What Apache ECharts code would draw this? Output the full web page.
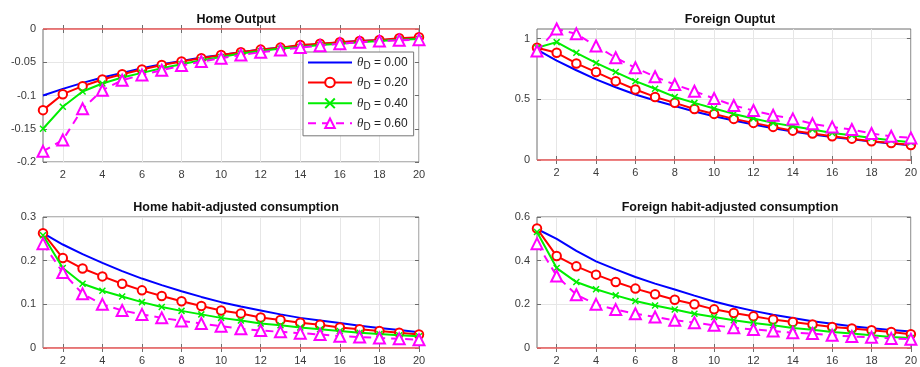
<!DOCTYPE html>
<html><head><meta charset="utf-8">
<script src="https://cdn.jsdelivr.net/npm/echarts@6/dist/echarts.min.js"></script>
<style>html,body{margin:0;padding:0;background:#fff}#c{width:920px;height:367px}</style>
</head><body><div id="c"></div>
<script>
const periods = [1,2,3,4,5,6,7,8,9,10,11,12,13,14,15,16,17,18,19,20];
const xTicks = [2,4,6,8,10,12,14,16,18,20];
const seriesNames = ['θD = 0.00','θD = 0.20','θD = 0.40','θD = 0.60'];
const titles = ['Home Output','Foreign Ouptut','Home habit-adjusted consumption','Foreign habit-adjusted consumption'];

// Home Output
const homeOut0 = [-0.100,-0.090,-0.081,-0.073,-0.066,-0.059,-0.053,-0.048,-0.043,-0.039,-0.035,-0.031,-0.028,-0.025,-0.023,-0.020,-0.018,-0.017,-0.015,-0.013];
const homeOut2 = [-0.122,-0.098,-0.086,-0.076,-0.068,-0.061,-0.054,-0.049,-0.044,-0.039,-0.035,-0.031,-0.028,-0.024,-0.022,-0.020,-0.018,-0.0165,-0.014,-0.0125];
const homeOut4 = [-0.150,-0.117,-0.094,-0.082,-0.073,-0.066,-0.059,-0.053,-0.047,-0.042,-0.037,-0.033,-0.0295,-0.027,-0.024,-0.022,-0.020,-0.018,-0.016,-0.015];
const homeOut6 = [-0.184,-0.167,-0.120,-0.092,-0.077,-0.069,-0.062,-0.055,-0.049,-0.044,-0.039,-0.035,-0.0315,-0.028,-0.025,-0.022,-0.020,-0.018,-0.017,-0.016];
// Foreign Output
const forOut0 = [0.91,0.82,0.74,0.665,0.60,0.54,0.49,0.445,0.40,0.36,0.325,0.292,0.262,0.235,0.21,0.19,0.17,0.152,0.136,0.122];
const forOut2 = [0.925,0.884,0.796,0.725,0.65,0.581,0.52,0.471,0.421,0.38,0.339,0.306,0.273,0.242,0.218,0.196,0.176,0.154,0.14,0.124];
const forOut4 = [0.925,0.972,0.884,0.80,0.725,0.65,0.587,0.52,0.471,0.424,0.38,0.342,0.306,0.278,0.251,0.223,0.204,0.182,0.163,0.146];
const forOut6 = [0.898,1.08,1.04,0.94,0.843,0.76,0.686,0.622,0.567,0.507,0.449,0.408,0.369,0.339,0.298,0.273,0.251,0.218,0.196,0.182];
// Home habit-adjusted consumption
const homeC0 = [0.263,0.237,0.215,0.195,0.176,0.159,0.144,0.130,0.117,0.105,0.095,0.086,0.077,0.069,0.063,0.057,0.051,0.046,0.041,0.036];
const homeC2 = [0.263,0.206,0.182,0.164,0.147,0.132,0.119,0.107,0.096,0.086,0.079,0.070,0.064,0.058,0.053,0.047,0.043,0.039,0.035,0.031];
const homeC4 = [0.258,0.183,0.147,0.131,0.118,0.105,0.094,0.085,0.077,0.069,0.063,0.056,0.052,0.047,0.043,0.039,0.035,0.032,0.029,0.027];
const homeC6 = [0.239,0.173,0.124,0.100,0.086,0.077,0.069,0.062,0.056,0.050,0.044,0.040,0.037,0.034,0.031,0.027,0.025,0.023,0.021,0.019];
// Foreign habit-adjusted consumption
const forC0 = [0.545,0.50,0.445,0.397,0.36,0.325,0.295,0.268,0.24,0.213,0.19,0.17,0.152,0.137,0.123,0.111,0.10,0.091,0.083,0.076];
const forC2 = [0.547,0.421,0.374,0.336,0.302,0.272,0.246,0.221,0.200,0.177,0.160,0.145,0.130,0.119,0.108,0.096,0.089,0.081,0.073,0.063];
const forC4 = [0.531,0.366,0.302,0.269,0.241,0.215,0.195,0.176,0.157,0.142,0.127,0.115,0.104,0.092,0.084,0.073,0.066,0.058,0.050,0.046];
const forC6 = [0.478,0.33,0.244,0.200,0.176,0.157,0.142,0.127,0.116,0.104,0.093,0.085,0.078,0.070,0.066,0.058,0.053,0.049,0.044,0.040];

const panels = [
  {data:[homeOut0,homeOut2,homeOut4,homeOut6], min:-0.2, max:0, yTicks:[-0.2,-0.15,-0.1,-0.05,0]},
  {data:[forOut0,forOut2,forOut4,forOut6], min:0, max:1.08, yTicks:[0,0.5,1]},
  {data:[homeC0,homeC2,homeC4,homeC6], min:0, max:0.3, yTicks:[0,0.1,0.2,0.3]},
  {data:[forC0,forC2,forC4,forC6], min:0, max:0.6, yTicks:[0,0.2,0.4,0.6]}
];

const gridPos = [
  {left:43, top:29, width:376, height:133},
  {left:537, top:29, width:376, height:131},
  {left:43, top:217, width:376, height:131},
  {left:537, top:217, width:376, height:131}
];
const titleY = [8, 8, 196, 196];

const colors = ['#0000ff','#ff0000','#00ee00','#ff00ff'];
const frame = '#6e6e6e';
const labelStyle = {color:'#3a3a3a', fontSize:11, fontFamily:'Liberation Sans, Arial, sans-serif'};

const grids=[], xAxes=[], yAxes=[], series=[], title=[];
gridPos.forEach((g,i)=>{
  const p = panels[i];
  grids.push(Object.assign({show:true, borderColor:frame, borderWidth:1, backgroundColor:'#fff'}, g));
  title.push({text:titles[i], left:g.left + g.width/2, top:titleY[i], textAlign:'center',
    textStyle:{fontSize:12.5, fontWeight:'bold', color:'#111', fontFamily:'Liberation Sans, Arial, sans-serif'}});
  const xBase = {type:'value', gridIndex:i, min:1, max:20,
    axisLine:{show:false}, axisTick:{show:true, inside:true, length:4, lineStyle:{color:frame}, customValues:xTicks},
    splitLine:{show:true, lineStyle:{color:'#e6e6e6', width:1}}};
  xAxes.push(Object.assign({}, xBase, {position:'bottom', axisLabel:Object.assign({margin:7, customValues:xTicks}, labelStyle)}));
  xAxes.push(Object.assign({}, xBase, {position:'top', axisLabel:{show:false, customValues:xTicks}, splitLine:{show:false}}));
  const yBase = {type:'value', gridIndex:i, min:p.min, max:p.max,
    axisLine:{show:false}, axisTick:{show:true, inside:true, length:4, lineStyle:{color:frame}, customValues:p.yTicks},
    splitLine:{show:true, lineStyle:{color:'#e6e6e6', width:1}}};
  yAxes.push(Object.assign({}, yBase, {position:'left', axisLabel:Object.assign({margin:7, customValues:p.yTicks}, labelStyle)}));
  yAxes.push(Object.assign({}, yBase, {position:'right', axisLabel:{show:false, customValues:p.yTicks}, splitLine:{show:false}}));

  p.data.forEach((vals,k)=>{
    const s = {
      type:'line', name:seriesNames[k], xAxisIndex:2*i, yAxisIndex:2*i,
      data: periods.map((t,j)=>[t, vals[j]]), clip:false, animation:false,
      lineStyle:{color:colors[k], width:2, type: k===3 ? [8,6] : 'solid'},
      itemStyle:{color:colors[k]}, z: 3+k
    };
    if (k===0) {
      s.symbol='none';
      s.z = 2;
    } else if (k===1) {
      s.symbol='emptyCircle'; s.symbolSize=8.5; s.itemStyle={color:colors[k], borderColor:colors[k], borderWidth:2};
    } else if (k===2) {
      s.symbol='path://M0,0L10,10M10,0L0,10'; s.symbolSize=6;
      s.itemStyle={color:'none', borderColor:colors[k], borderWidth:1.5};
    } else {
      s.symbol='emptyTriangle'; s.symbolSize=11; s.itemStyle={color:colors[k], borderColor:colors[k], borderWidth:2.5};
      s.markLine = {silent:true, symbol:'none', label:{show:false}, animation:false, z:10,
        lineStyle:{color:'#f06060', width:1.5, type:'solid'}, data:[{yAxis:0}]};
    }
    series.push(s);
  });
});

const chart = echarts.init(document.getElementById('c'), null, {renderer:'canvas'});
chart.setOption({
  animation:false,
  title: title,
  grid: grids, xAxis: xAxes, yAxis: yAxes, series: series,
  legend: {
    data: [{name:seriesNames[0], itemStyle:{opacity:0}}, seriesNames[1], seriesNames[2], seriesNames[3]],
    orient:'vertical', left:303, top:52, itemWidth:44, itemHeight:12, itemGap:5,
    padding:[4,6,4,4], backgroundColor:'#fff', borderColor:'#777', borderWidth:1,
    selectedMode:false,
    formatter: name => '{t|θ}{d|D}{v| = ' + name.split('= ')[1] + '}',
    textStyle:{color:'#222', fontFamily:'Liberation Sans, Arial, sans-serif', fontSize:12,
      rich:{ t:{fontStyle:'italic', fontSize:13, fontFamily:'Liberation Serif, serif'},
             d:{fontSize:10, padding:[7,0,0,0], fontFamily:'Liberation Sans, Arial, sans-serif'},
             v:{fontSize:12, fontFamily:'Liberation Sans, Arial, sans-serif'} }}
  }
});
</script></body></html>
